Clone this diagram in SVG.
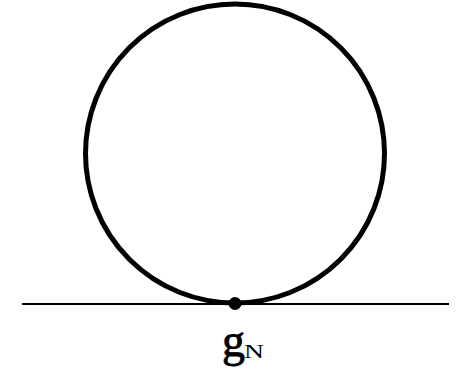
<svg xmlns="http://www.w3.org/2000/svg" width="462" height="371" viewBox="0 0 462 371">
<style>
.lbl{font-family:"Liberation Serif","Times New Roman",serif;fill:#000}
</style>
<rect width="462" height="371" fill="#fff"/>
<g id="connectors">
<line x1="22" y1="304" x2="449" y2="304" stroke="#000" stroke-width="2"/>
</g>
<g id="loop">
<circle cx="235" cy="153.5" r="149.5" fill="none" stroke="#000" stroke-width="5"/>
</g>
<g id="vertex">
<circle cx="235" cy="303.5" r="6.5" fill="#000"/>
</g>
<g id="label">
<text class="lbl" x="222" y="356" font-size="46" stroke="#000" stroke-width="0.8">g</text>
<text class="lbl" x="244" y="358" font-size="18" textLength="20" lengthAdjust="spacingAndGlyphs">N</text>
</g>
</svg>
